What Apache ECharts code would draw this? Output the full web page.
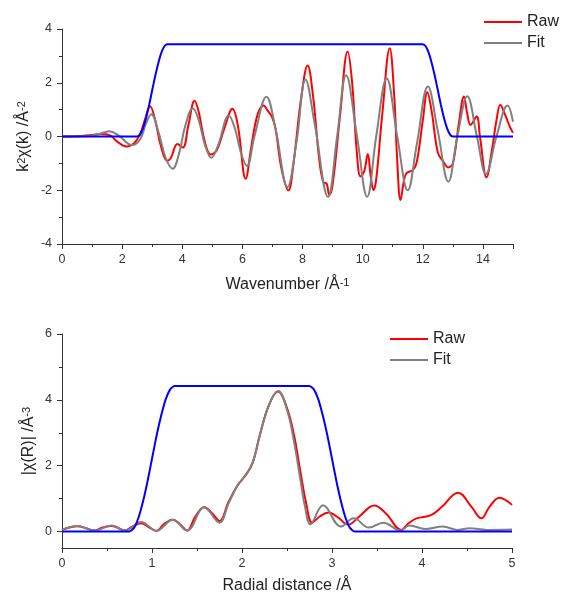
<!DOCTYPE html>
<html>
<head>
<meta charset="utf-8">
<script src="https://cdn.jsdelivr.net/npm/echarts@6/dist/echarts.min.js"></script>
<style>
  html, body { margin: 0; padding: 0; background: #fff; }
  #chart { width: 562px; height: 595px; }
</style>
</head>
<body>
<div id="chart"></div>
<script>
// k-space, [k, k2chi]
var kRaw = [
  [0, 0], [0.5, 0.01], [1.0, 0.06], [1.3, 0.09], [1.6, 0.04], [1.85, -0.2], [2.15, -0.37], [2.4, -0.25],
  [2.6, 0.1], [2.75, 0.6], [2.93, 1.13], [3.1, 0.6], [3.3, -0.4], [3.5, -0.9], [3.62, -0.8], [3.84, -0.28],
  [4.02, -0.41], [4.2, 0.4], [4.41, 1.33], [4.55, 0.9], [4.75, -0.2], [4.95, -0.67], [5.15, -0.5], [5.4, 0.3],
  [5.67, 1.03], [5.85, 0.4], [6.11, -1.57], [6.28, -0.5], [6.42, 0.43], [6.55, 0.95], [6.7, 1.15], [6.85, 0.95],
  [6.98, 0.74], [7.1, 0.3], [7.3, -1.2], [7.53, -2.0], [7.7, -1.0], [7.95, 1.4], [8.17, 2.64], [8.35, 1.5],
  [8.55, -0.8], [8.69, -1.7], [8.8, -1.75], [8.89, -2.17], [9.0, -1.8], [9.25, 0.8], [9.5, 3.16], [9.65, 2.0],
  [9.8, -0.5], [9.93, -1.49], [10.05, -1.3], [10.17, -0.65], [10.27, -1.5], [10.36, -2.0], [10.45, -1.6], [10.65, 0.8],
  [10.9, 3.28], [11.05, 1.5], [11.15, -0.9], [11.26, -2.36], [11.38, -1.6], [11.47, -1.35], [11.67, -1.25], [11.8, -0.95],
  [12.0, 0.6], [12.15, 1.65], [12.3, 0.9], [12.5, -0.6], [12.68, -0.93], [12.84, -1.15], [13.0, -1.0], [13.2, 0.5],
  [13.37, 1.49], [13.47, 0.9], [13.59, 0.43], [13.79, 0.74], [13.9, 0.0], [14.12, -1.52], [14.3, -0.5], [14.45, 0.6],
  [14.58, 1.18], [14.73, 0.83], [14.9, 0.35], [15.0, 0.14]
];
var kFit = [
  [0, 0], [0.8, 0.01], [1.2, 0.08], [1.58, 0.2], [1.9, 0.02], [2.33, -0.32], [2.6, -0.1], [2.8, 0.5],
  [2.97, 0.83], [3.2, 0.2], [3.45, -0.8], [3.68, -1.2], [3.9, -0.6], [4.1, 0.4], [4.35, 1.05], [4.55, 0.6],
  [4.75, -0.3], [4.97, -0.79], [5.2, -0.3], [5.55, 0.78], [5.75, 0.3], [5.95, -0.6], [6.15, -1.1], [6.4, 0.0],
  [6.8, 1.48], [7.1, 0.3], [7.5, -1.88], [7.8, -0.2], [8.1, 2.12], [8.4, 0.5], [8.85, -2.25], [9.15, 0.0],
  [9.45, 2.28], [9.8, 0.1], [10.15, -2.24], [10.45, 0.0], [10.8, 2.16], [11.15, 0.0], [11.5, -2.0], [11.8, -0.3],
  [12.17, 1.86], [12.5, 0.2], [12.85, -1.68], [13.15, 0.0], [13.48, 1.5], [13.8, 0.0], [14.1, -1.4], [14.45, 0.0],
  [14.82, 1.15], [15.0, 0.55]
];
var kWindow = [
  [0, 0], [2.5, 0], [2.6, 0.08], [2.7, 0.33], [2.8, 0.71], [2.9, 1.18], [3.0, 1.72], [3.1, 2.25], [3.2, 2.72],
  [3.3, 3.10], [3.4, 3.35], [3.5, 3.43], [12.0, 3.43], [12.1, 3.35], [12.2, 3.10], [12.3, 2.72], [12.4, 2.25],
  [12.5, 1.72], [12.6, 1.18], [12.7, 0.71], [12.8, 0.33], [12.9, 0.08], [13.0, 0], [15, 0]
];

// R-space, [R, |chi(R)|]
var rRaw = [
  [0, 0.05], [0.08, 0.12], [0.17, 0.16], [0.27, 0.1], [0.36, 0.03], [0.45, 0.12], [0.55, 0.17], [0.63, 0.1],
  [0.7, 0.03], [0.78, 0.15], [0.88, 0.25], [0.97, 0.12], [1.05, 0.02], [1.13, 0.22], [1.23, 0.36], [1.32, 0.2],
  [1.39, 0.03], [1.48, 0.45], [1.58, 0.74], [1.67, 0.55], [1.75, 0.32], [1.85, 0.9], [1.95, 1.4], [2.05, 1.75],
  [2.12, 2.1], [2.2, 2.95], [2.3, 3.85], [2.4, 4.25], [2.5, 3.75], [2.58, 2.9], [2.65, 1.8], [2.71, 0.9],
  [2.78, 0.27], [2.86, 0.45], [2.96, 0.58], [3.07, 0.42], [3.18, 0.21], [3.3, 0.45], [3.47, 0.79], [3.6, 0.55],
  [3.77, 0.05], [3.85, 0.25], [3.94, 0.4], [4.1, 0.5], [4.22, 0.75], [4.4, 1.18], [4.55, 0.75], [4.66, 0.4],
  [4.75, 0.75], [4.86, 1.03], [5.0, 0.81]
];
var rFit = [
  [0, 0.05], [0.17, 0.17], [0.36, 0.03], [0.55, 0.18], [0.7, 0.03], [0.88, 0.29], [1.05, 0.02], [1.23, 0.36],
  [1.39, 0.03], [1.58, 0.74], [1.75, 0.27], [1.85, 0.85], [1.95, 1.4], [2.05, 1.75], [2.12, 2.1], [2.2, 2.95],
  [2.3, 3.85], [2.4, 4.27], [2.5, 3.7], [2.58, 2.7], [2.65, 1.55], [2.7, 0.75], [2.76, 0.22], [2.9, 0.8],
  [3.1, 0.15], [3.24, 0.4], [3.41, 0.12], [3.57, 0.27], [3.76, 0.03], [3.86, 0.18], [4.04, 0.08], [4.23, 0.15],
  [4.4, 0.05], [4.53, 0.1], [4.72, 0.05], [5.0, 0.06]
];
var rWindow = [
  [0, 0], [0.75, 0], [0.8, 0.11], [0.85, 0.42], [0.9, 0.91], [0.95, 1.52], [1.0, 2.21], [1.05, 2.9], [1.1, 3.5],
  [1.15, 4.0], [1.2, 4.31], [1.25, 4.42], [2.75, 4.42], [2.8, 4.31], [2.85, 4.0], [2.9, 3.5], [2.95, 2.9],
  [3.0, 2.21], [3.05, 1.52], [3.1, 0.91], [3.15, 0.42], [3.2, 0.11], [3.25, 0], [5, 0]
];

var rMajorTicks = [0, 2, 4, 6];
var rMinorTicks = [1, 3, 5];

var FONT = 'Liberation Sans';
var AXIS = '#333';

var nameRich = {
  b: { fontSize: 16, fontFamily: FONT, color: '#222' },
  s: { fontSize: 11, fontFamily: FONT, color: '#222', verticalAlign: 'top', lineHeight: 10 }
};

function xAxisOf(grid, max, interval, name, gap) {
  return {
    type: 'value', gridIndex: grid, min: 0, max: max, interval: interval,
    axisLine: { onZero: false, lineStyle: { color: AXIS, width: 1 } },
    axisTick: { length: 5, lineStyle: { color: AXIS } },
    minorTick: { show: true, splitNumber: 2, length: 3, lineStyle: { color: AXIS } },
    axisLabel: { fontSize: 12.5, fontFamily: FONT, color: AXIS, margin: 9, showMaxLabel: max % interval === 0 },
    splitLine: { show: false },
    name: name, nameLocation: 'middle', nameGap: gap, nameMoveOverlap: false,
    nameTextStyle: { rich: nameRich }
  };
}

function legendAt(left, top) {
  return {
    data: ['Raw', 'Fit'], orient: 'vertical', left: left, top: top, padding: 0,
    icon: 'rect', itemWidth: 38, itemHeight: 2, itemGap: 5,
    textStyle: { fontSize: 16, fontFamily: FONT, color: '#222' }
  };
}

var chart = echarts.init(document.getElementById('chart'));

chart.setOption({
  animation: false,
  backgroundColor: '#fff',
  grid: [
    { left: 62, top: 29, width: 451, height: 215 },
    { left: 62, top: 334, width: 450, height: 215 }
  ],
  legend: [legendAt(484, 14), legendAt(390, 331)],
  xAxis: [
    xAxisOf(0, 15, 2, '{b|Wavenumber /Å}{s|-1}', 33),
    xAxisOf(1, 5, 1, '{b|Radial distance /Å}', 30)
  ],
  yAxis: [
    {
      type: 'value', gridIndex: 0, min: -4, max: 4, interval: 2,
      axisLine: { show: true, lineStyle: { color: AXIS, width: 1 } },
      axisTick: { show: true, length: 5, lineStyle: { color: AXIS } },
      minorTick: { show: true, splitNumber: 2, length: 3, lineStyle: { color: AXIS } },
      axisLabel: { fontSize: 12.5, fontFamily: FONT, color: AXIS, margin: 10 },
      splitLine: { show: false },
      name: '{b|k}{s|2}{b|χ(k) /Å}{s|-2}', nameLocation: 'middle', nameGap: 30, nameMoveOverlap: false,
      nameTextStyle: { rich: nameRich }
    },
    {
      // |chi(R)| axis, starts below zero so the ticks are given by hand
      type: 'value', gridIndex: 1, min: -0.5, max: 6,
      axisLine: { show: true, lineStyle: { color: AXIS, width: 1 } },
      axisTick: { show: true, length: 5, customValues: rMajorTicks, lineStyle: { color: AXIS } },
      axisLabel: { fontSize: 12.5, fontFamily: FONT, color: AXIS, margin: 10, customValues: rMajorTicks },
      splitLine: { show: false },
      name: '{b|\u007Cχ(R)\u007C /Å}{s|-3}', nameLocation: 'middle', nameGap: 25, nameMoveOverlap: false,
      nameTextStyle: { rich: nameRich }
    },
    {
      // minor ticks only
      type: 'value', gridIndex: 1, min: -0.5, max: 6, position: 'left',
      axisLine: { show: false },
      axisTick: { show: true, length: 3, customValues: rMinorTicks, lineStyle: { color: AXIS } },
      axisLabel: { show: false, customValues: rMinorTicks },
      splitLine: { show: false }
    }
  ],
  series: [
    {
      name: 'Raw', type: 'line', xAxisIndex: 0, yAxisIndex: 0, data: kRaw,
      symbol: 'none', smooth: 0.4, lineStyle: { color: '#ff0000', width: 2 }, itemStyle: { color: '#ff0000' }
    },
    {
      name: 'Fit', type: 'line', xAxisIndex: 0, yAxisIndex: 0, data: kFit,
      symbol: 'none', smooth: 0.4, lineStyle: { color: '#808080', width: 2 }, itemStyle: { color: '#808080' }
    },
    {
      name: 'window', type: 'line', xAxisIndex: 0, yAxisIndex: 0, data: kWindow,
      symbol: 'none', smooth: 0.2, lineStyle: { color: '#0000ff', width: 2 }
    },
    {
      name: 'Raw', type: 'line', xAxisIndex: 1, yAxisIndex: 1, data: rRaw,
      symbol: 'none', smooth: 0.4, lineStyle: { color: '#ff0000', width: 2 }, itemStyle: { color: '#ff0000' }
    },
    {
      name: 'Fit', type: 'line', xAxisIndex: 1, yAxisIndex: 1, data: rFit,
      symbol: 'none', smooth: 0.4, lineStyle: { color: '#808080', width: 2 }, itemStyle: { color: '#808080' }
    },
    {
      name: 'window', type: 'line', xAxisIndex: 1, yAxisIndex: 1, data: rWindow,
      symbol: 'none', smooth: 0.2, lineStyle: { color: '#0000ff', width: 2 }
    }
  ]
});
</script>
</body>
</html>
